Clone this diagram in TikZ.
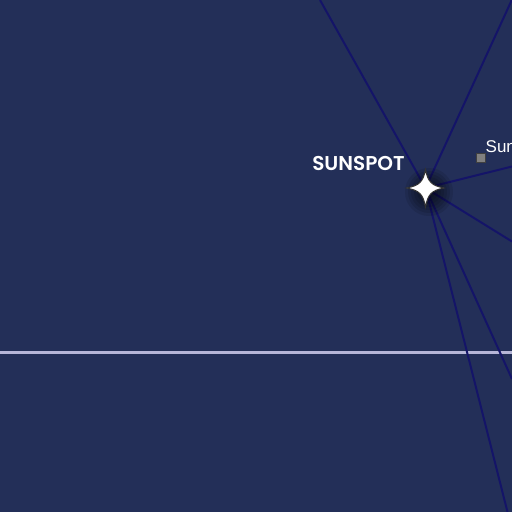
\documentclass[tikz,border=0pt]{standalone}
\usepackage{fontspec}
\newfontfamily\popb{Poppins SemiBold}
\newfontfamily\libsans{Liberation Sans}
\definecolor{bg}{HTML}{232F58}
\definecolor{edgec}{HTML}{141468}
\definecolor{rulec}{HTML}{B6B6D8}
\definecolor{sqc}{HTML}{808080}
\tikzset{
  conn/.style={edgec, line width=2pt},
  hrule/.style={rulec, line width=3pt},
  lbl/.style={text=white, inner sep=0pt, font=\popb\fontsize{20}{20}\selectfont},
  sublbl/.style={text=white, inner sep=0pt, font=\libsans\fontsize{17}{17}\selectfont},
  marker/.style={draw=black!75, fill=sqc, line width=0.8pt, minimum size=9pt, inner sep=0pt},
}
\begin{document}
\begin{tikzpicture}[x=1pt,y=-1pt]
\useasboundingbox (0,0) rectangle (512,512);
\clip (0,0) rectangle (512,512);
\fill[bg] (0,0) rectangle (512,512);
% horizontal rule
\coordinate (hl) at (0,352.5);
\coordinate (hr) at (512,352.5);
\draw[hrule] (hl) -- (hr);
% star position and free ends
\coordinate (star) at (425.5,188);
\coordinate (e1) at (320,0);
\coordinate (e2) at (512,-0.5);
\coordinate (e3) at (512,166.5);
\coordinate (e4) at (512,241.5);
\coordinate (e5) at (512,379);
\coordinate (e6) at (507.5,512);
\foreach \e in {e1,e2,e3,e4,e5,e6} \draw[conn] (star) -- (\e);
% shadow
\foreach \r in {24,21,18,15,12,9,6} \fill[black,opacity=0.1] (429,192) circle (\r);
% star
\draw[fill=white, draw=black!80, line width=1pt, shift={(star)}]
  (0,-18.5) .. controls (2.5,-6) and (6,-2.5) .. (18.5,0)
  .. controls (6,2.5) and (2.5,6) .. (0,19)
  .. controls (-2.5,6) and (-6,2.5) .. (-19,0)
  .. controls (-6,-2.5) and (-2.5,-6) .. cycle;
% labels
\node[lbl, anchor=base] (sunspot) at (358.5,170) {SUNSPOT};
\node[marker] (sq) at (480.5,157.8) {};
\node[sublbl, anchor=base west] (sun) at (485.5,152.5) {Sun};
\end{tikzpicture}
\end{document}
